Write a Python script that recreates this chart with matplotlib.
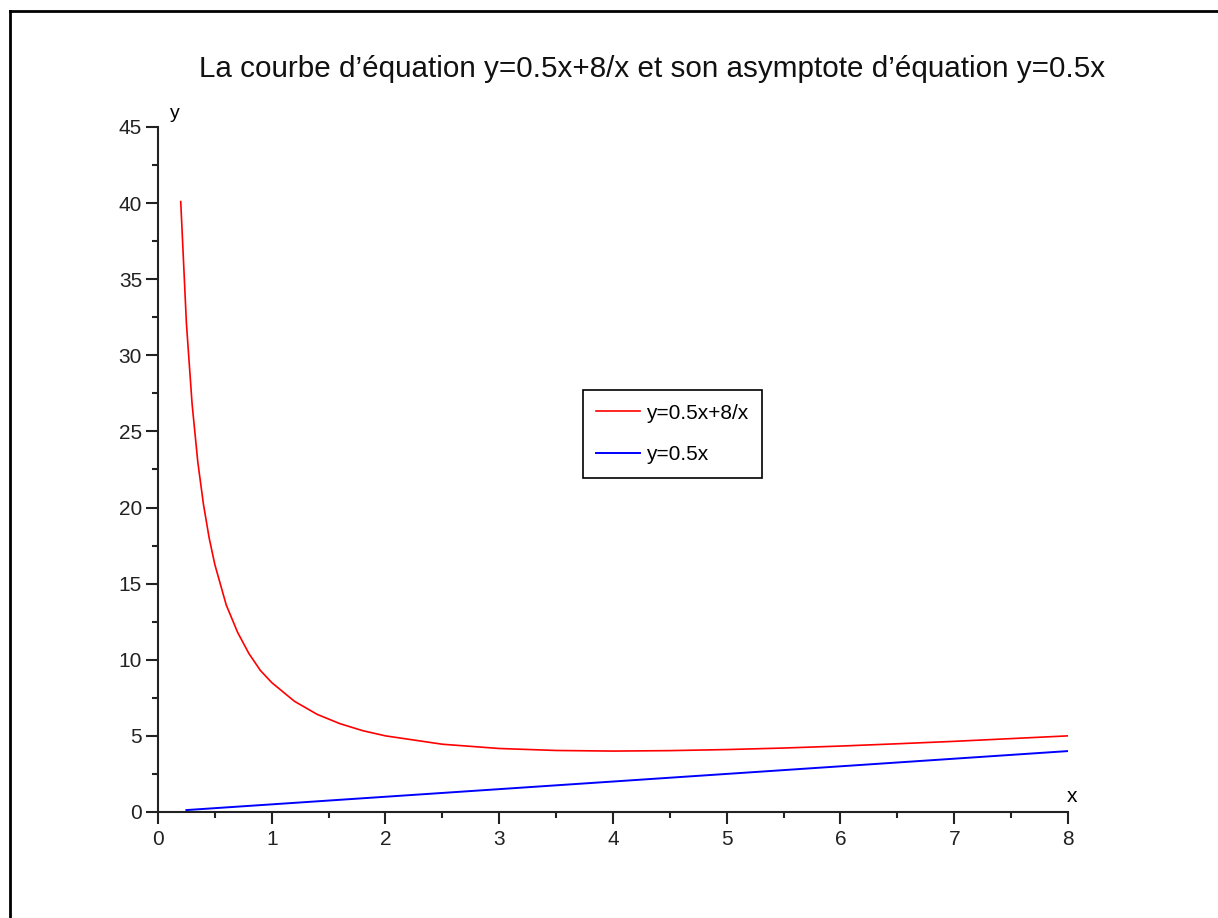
import matplotlib
matplotlib.use("Agg")
from matplotlib import pyplot as plt
from matplotlib.lines import Line2D
from matplotlib.ticker import MultipleLocator

plt.rcParams["font.family"] = ["Liberation Sans", "DejaVu Sans"]

# values
curve_x = [0.2, 0.25, 0.3, 0.35, 0.4, 0.45, 0.5, 0.6, 0.7, 0.8, 0.9, 1.0, 1.2, 1.4,
           1.6, 1.8, 2.0, 2.5, 3.0, 3.5, 4.0, 4.5, 5.0, 5.5, 6.0, 6.5, 7.0, 7.5, 8.0]
curve_y = [40.1, 32.1, 26.8, 23.0, 20.2, 18.0, 16.25, 13.6, 11.8, 10.4, 9.3, 8.5, 7.27, 6.41,
           5.8, 5.34, 5.0, 4.45, 4.17, 4.04, 4.0, 4.03, 4.1, 4.2, 4.33, 4.48, 4.64, 4.82, 5.0]
asym_x = [0.25, 2.0, 4.0, 6.0, 8.0]
asym_y = [0.125, 1.0, 2.0, 3.0, 4.0]

title = "La courbe d\u2019\u00e9quation y=0.5x+8/x et son asymptote d\u2019\u00e9quation y=0.5x"

fig = plt.figure(figsize=(12.18, 9.18), dpi=100)
ax = fig.add_axes([0.1297, 0.1155, 0.7471, 0.7462])

ax.plot(curve_x, curve_y, color="#ff0000", lw=1.2, label="y=0.5x+8/x")
ax.plot(asym_x, asym_y, color="#0000ff", lw=1.4, label="y=0.5x")

ax.set_xlim(0, 8)
ax.set_ylim(0, 45)
ax.xaxis.set_major_locator(MultipleLocator(1))
ax.xaxis.set_minor_locator(MultipleLocator(0.5))
ax.yaxis.set_major_locator(MultipleLocator(5))
ax.yaxis.set_minor_locator(MultipleLocator(2.5))

for side in ["top", "right"]:
    ax.spines[side].set_visible(False)
for side in ["left", "bottom"]:
    ax.spines[side].set_linewidth(1.5)
    ax.spines[side].set_color("#222222")

ax.tick_params(which="major", length=8.5, width=1.5, color="#222222",
               labelsize=15, labelcolor="#222222", direction="out")
ax.tick_params(axis="x", which="major", pad=4.5)
ax.tick_params(axis="y", which="major", pad=3)
ax.tick_params(which="minor", length=4.5, width=1.5, color="#222222", direction="out")

ax.text(0.019, 1.02, "y", transform=ax.transAxes, fontsize=14, ha="center", va="center")
ax.text(1.005, 0.022, "x", transform=ax.transAxes, fontsize=15, ha="center", va="center")

leg = ax.legend(loc="upper left", bbox_to_anchor=(0.467, 0.616), fontsize=15,
                fancybox=False, framealpha=1, edgecolor="black", handlelength=2.1,
                borderpad=0.65, labelspacing=1.1, handletextpad=0.3, borderaxespad=0)
leg.get_frame().set_linewidth(1.2)

fig.text(0.535, 0.925, title, fontsize=21.3, ha="center", va="center", color="#111111")

# outer frame of the picture (only top and left edges are visible)
fig.add_artist(Line2D([0.0085, 1.0], [0.9885, 0.9885], transform=fig.transFigure,
                      color="black", lw=2))
fig.add_artist(Line2D([0.0085, 0.0085], [0.0, 0.9885], transform=fig.transFigure,
                      color="black", lw=2))

fig.savefig("out.png", dpi=100)
